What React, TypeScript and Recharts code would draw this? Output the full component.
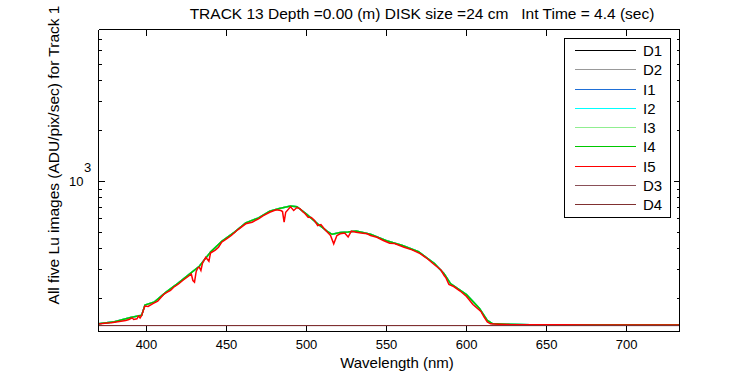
import { Legend, Line, LineChart, XAxis, YAxis } from 'recharts';

const FONT = '"Liberation Sans", Arial, Helvetica, sans-serif';

// I5 (red) trace, wavelength in nm and Lu in ADU/pix/sec
const luWl = [
  370, 374, 378, 380, 384, 387, 389, 391, 392, 394, 395, 396, 397, 398, 399, 401, 404, 407, 409, 411,
  413, 415, 417, 420, 423, 426, 428, 429, 430, 431, 432, 433, 434, 435, 437, 439, 440, 443, 445, 447,
  450, 453, 457, 462, 466, 470, 473, 477, 481, 484, 485, 486, 487, 490, 492, 494, 496, 498, 499, 501,
  503, 505, 507, 509, 512, 514, 515, 517, 519, 521, 523, 524, 526, 528, 531, 534, 538, 540, 544, 548,
  552, 555, 561, 566, 571, 575, 579, 584, 586, 587, 589, 592, 596, 600, 604, 609, 611, 613, 615, 620,
  627, 640, 660, 680, 700, 720, 733,
];
const luI5 = [
  141.8, 143.4, 144.5, 145.4, 147.4, 148.8, 150.9, 154.4, 150.9, 152.3, 158.3, 154, 159.4, 170.7, 181.5, 180.3, 187.8, 193.9, 204, 214,
  219.4, 224.5, 234.9, 245.4, 259.3, 272, 281.5, 257.5, 251.6, 290, 305.6, 309, 295.3, 327.2, 354.2, 335.4, 375.2, 391, 406.3, 435.2,
  456, 477.1, 516, 560.1, 572.5, 599.8, 627.5, 656.6, 678.4, 672, 662.9, 572.5, 656.6, 706.9, 672, 700.1, 687.7, 656.6, 644.9, 613.1,
  610.6, 585.8, 547, 554.6, 511.1, 488.3, 477.1, 425.8, 477.1, 488.3, 492.3, 492.3, 467.3, 506.2, 499.3, 493.7, 488.3, 477.1, 466.1, 445.5,
  429.3, 427.6, 406.3, 392.1, 372.7, 350.3, 325, 297.3, 275.8, 268.3, 243.7, 237.1, 222.9, 206.7, 185.3, 168.4, 156.1, 145.8, 142.2, 141.5,
  140.8, 140.4, 140.2, 140, 140.1, 140, 139.9,
];

// I1..I4 sit just under the red trace; only their upper edge shows
const upperWl = [
  370, 380, 390, 397, 399, 405, 412, 420, 428, 433, 440, 447, 455, 462, 470, 477, 483, 490, 494, 500,
  507, 513, 516, 521, 526, 531, 540, 550, 560, 570, 580, 586, 590, 600, 608, 613, 616, 625, 640, 733,
];
const luI1to4 = [
  142.5, 146.5, 155, 160, 184, 192, 219, 249, 287, 313, 380, 441, 500, 568, 608, 666, 690, 716, 708, 640,
  560, 505, 485, 497, 500, 508, 486, 444, 416, 382, 325, 283, 247, 212, 176, 149, 143, 141.5, 140.6, 140.2,
];

// dark frames, flat along the bottom
const darkWl = [370, 450, 550, 650, 733];
const darkD1 = [138.9, 138.9, 138.9, 138.9, 138.9];
const darkD2 = [138.9, 138.9, 138.9, 138.9, 138.9];
const darkD3 = [138.9, 138.9, 138.9, 138.9, 138.9];
const darkD4 = [138.9, 138.9, 138.9, 138.9, 138.9];

const xTicks = [400, 450, 500, 550, 600, 650, 700];
const yTicks = [200, 300, 400, 500, 600, 700, 800, 900, 1000, 2000, 3000, 4000, 5000, 6000, 7000, 8000];
const legendOrder = ['D1', 'D2', 'I1', 'I2', 'I3', 'I4', 'I5', 'D3', 'D4'];

const X_DOMAIN: [number, number] = [370, 733.1];
const Y_DOMAIN: [number, number] = [128, 8035];

const pts = (wl: number[], v: number[]) => wl.map((nm, i) => ({ nm, v: v[i] }));

// D1 is hung on the mirrored top/right axes (same domains) so those frame edges get drawn
const series = [
  { name: 'D1', color: '#000000', data: pts(darkWl, darkD1), w: 1, xa: 'top', ya: 'right' },
  { name: 'D2', color: '#999999', data: pts(darkWl, darkD2), w: 1, xa: 'bottom', ya: 'left' },
  { name: 'I1', color: '#1f6fd6', data: pts(upperWl, luI1to4), w: 1.5, xa: 'bottom', ya: 'left' },
  { name: 'I2', color: '#00ffff', data: pts(upperWl, luI1to4), w: 1.5, xa: 'bottom', ya: 'left' },
  { name: 'I3', color: '#90ee90', data: pts(upperWl, luI1to4), w: 1.5, xa: 'bottom', ya: 'left' },
  { name: 'I4', color: '#00c800', data: pts(upperWl, luI1to4), w: 1.5, xa: 'bottom', ya: 'left' },
  { name: 'I5', color: '#ff0000', data: pts(luWl, luI5), w: 1.5, xa: 'bottom', ya: 'left' },
  { name: 'D3', color: '#8a5058', data: pts(darkWl, darkD3), w: 1, xa: 'bottom', ya: 'left' },
  { name: 'D4', color: '#803030', data: pts(darkWl, darkD4), w: 1, xa: 'bottom', ya: 'left' },
];

function BottomTick({ x, y, payload }: any) {
  return (
    <g>
      <line x1={x} x2={x} y1={y} y2={y - 6} stroke="#000" shapeRendering="crispEdges" />
      <text x={x} y={y + 17} textAnchor="middle" fontSize={13} fontFamily={FONT} fill="#000">
        {payload.value}
      </text>
    </g>
  );
}

function TopTick({ x, y }: any) {
  return <line x1={x} x2={x} y1={y} y2={y + 6} stroke="#000" shapeRendering="crispEdges" />;
}

function LeftTick({ x, y, payload }: any) {
  const major = payload.value === 1000;
  return (
    <g>
      <line x1={x} x2={x + (major ? 6 : 3)} y1={y} y2={y} stroke="#000" shapeRendering="crispEdges" />
      {major && (
        <g fontFamily={FONT} fontSize={13} fill="#000">
          <text x={x - 15} y={y + 4.5} textAnchor="end">10</text>
          <text x={x - 14.5} y={y - 9.5}>3</text>
        </g>
      )}
    </g>
  );
}

function RightTick({ x, y, payload }: any) {
  const major = payload.value === 1000;
  return <line x1={x} x2={x - (major ? 6 : 3)} y1={y} y2={y} stroke="#000" shapeRendering="crispEdges" />;
}

function TitleLabel() {
  return (
    <text x={422} y={19} textAnchor="middle" fontSize={15.5} fontFamily={FONT} fill="#000">
      TRACK 13 Depth =0.00 (m) DISK size =24 cm{'\u00a0\u00a0\u00a0'}Int Time = 4.4 (sec)
    </text>
  );
}

function XLabel() {
  return (
    <text x={397} y={368} textAnchor="middle" fontSize={15} fontFamily={FONT} fill="#000">
      Wavelength (nm)
    </text>
  );
}

function YLabel() {
  return (
    <text
      x={59}
      y={155}
      transform="rotate(-90 59 155)"
      textAnchor="middle"
      fontSize={15.5}
      fontFamily={FONT}
      fill="#000"
    >
      All five Lu images (ADU/pix/sec) for Track 1
    </text>
  );
}

function LegendBox({ payload }: any) {
  const items = [...(payload || [])].sort(
    (a: any, b: any) => legendOrder.indexOf(a.value) - legendOrder.indexOf(b.value),
  );
  return (
    <div
      style={{
        width: 107,
        height: 180,
        border: '1px solid #000',
        background: '#fff',
        boxSizing: 'border-box',
      }}
    >
      <svg width={105} height={178} style={{ display: 'block' }}>
        {items.map((it: any, i: number) => {
          const cy = 11.5 + Math.round(i * 19.25);
          return (
            <g key={it.value}>
              <line x1={10} x2={71} y1={cy} y2={cy} stroke={it.color} strokeWidth={1} shapeRendering="crispEdges" />
              <text x={78} y={cy + 5.5} fontSize={15} fontFamily={FONT} fill="#000">
                {it.value}
              </text>
            </g>
          );
        })}
      </svg>
    </div>
  );
}

const axisLine = { stroke: '#000', shapeRendering: 'crispEdges' };

export default function App() {
  return (
    <div style={{ position: 'absolute', left: 0, top: 0, width: 750, height: 375, background: '#fff' }}>
      <LineChart
        width={750}
        height={375}
        margin={{ top: 28.5, right: 69.5, bottom: 13.5, left: 48.5 }}
      >
        <XAxis
          xAxisId="bottom"
          dataKey="nm"
          type="number"
          domain={X_DOMAIN}
          allowDataOverflow
          ticks={xTicks}
          interval={0}
          height={30}
          tickSize={0}
          tickMargin={0}
          tickLine={false}
          axisLine={axisLine}
          tick={<BottomTick />}
          label={<XLabel />}
        />
        <XAxis
          xAxisId="top"
          orientation="top"
          dataKey="nm"
          type="number"
          domain={X_DOMAIN}
          allowDataOverflow
          ticks={xTicks}
          interval={0}
          height={1}
          tickSize={0}
          tickMargin={0}
          tickLine={false}
          axisLine={axisLine}
          tick={<TopTick />}
          label={<TitleLabel />}
        />
        <YAxis
          yAxisId="left"
          type="number"
          scale="log"
          domain={Y_DOMAIN}
          allowDataOverflow
          ticks={yTicks}
          interval={0}
          width={50}
          tickSize={0}
          tickMargin={0}
          tickLine={false}
          axisLine={axisLine}
          tick={<LeftTick />}
          label={<YLabel />}
        />
        <YAxis
          yAxisId="right"
          orientation="right"
          type="number"
          scale="log"
          domain={Y_DOMAIN}
          allowDataOverflow
          ticks={yTicks}
          interval={0}
          width={1}
          tickSize={0}
          tickMargin={0}
          tickLine={false}
          axisLine={axisLine}
          tick={<RightTick />}
        />
        <Legend
          layout="vertical"
          align="center"
          verticalAlign="middle"
          wrapperStyle={{ left: 564, top: 38, width: 107, height: 180 }}
          content={<LegendBox />}
        />
        {series.map((s) => (
          <Line
            key={s.name}
            xAxisId={s.xa}
            yAxisId={s.ya}
            data={s.data}
            dataKey="v"
            name={s.name}
            type="linear"
            stroke={s.color}
            strokeWidth={s.w}
            dot={false}
            activeDot={false}
            isAnimationActive={false}
          />
        ))}
      </LineChart>
    </div>
  );
}
